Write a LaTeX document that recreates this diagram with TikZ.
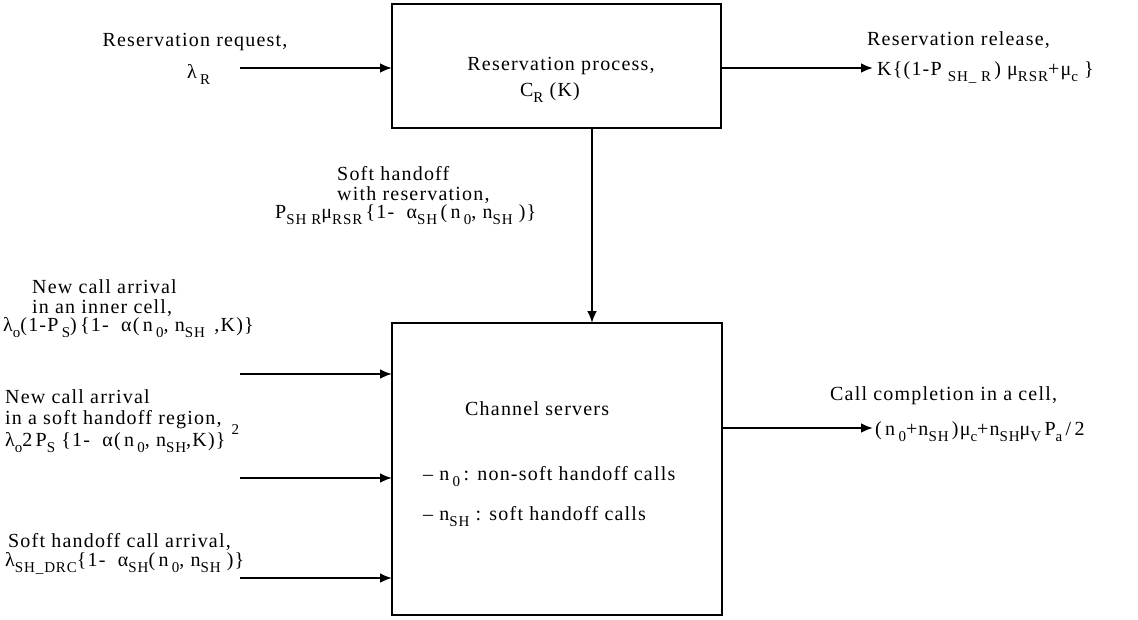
\documentclass[tikz,border=0pt]{standalone}
\usepackage{fontspec}
\setmainfont{Liberation Serif}[LetterSpace=6]
\usetikzlibrary{arrows.meta}
\newcommand{\sbs}[1]{\raisebox{-0.32em}{\fontsize{15}{15}\selectfont #1}}
\newcommand{\sps}[1]{\raisebox{0.6em}{\fontsize{15}{15}\selectfont #1}}
\begin{document}
\begin{tikzpicture}[x=1pt,y=-1pt,
  box/.style={draw, line width=2.8pt, outer sep=0pt, inner sep=0pt},
  arr/.style={line width=2.8pt, -{Latex[length=12pt,width=10pt]}},
  lbl/.style={inner sep=0pt, font=\fontsize{20}{22}\selectfont}]
\useasboundingbox (0,0) rectangle (1138,619);
% boxes
\node[box, minimum width=329pt, minimum height=124pt] (box1) at (556.5,66) {};
\node[box, minimum width=330pt, minimum height=292pt] (box2) at (557,469) {};
% box texts
\node[lbl, anchor=base] (b1t1) at (561,70) {Reservation process,};
\node[lbl, anchor=base] (b1t2) at (550,96) {C\sbs{R} (K)};
\node[lbl, anchor=base west] (b2t1) at (465,415) {Channel servers};
\node[lbl, anchor=base west] (b2t2) at (423,480) {– n\,\sbs{0}\,: non-soft handoff calls};
\node[lbl, anchor=base west] (b2t3) at (423,520) {– n\sbs{SH}\ : soft handoff calls};
% coordinates for free ends
\coordinate (sR) at (240,68);
\coordinate (eR) at (873,68);
\coordinate (vx) at (592,0);
\coordinate (s1) at (240,374);
\coordinate (s2) at (240,478);
\coordinate (s3) at (240,578);
\coordinate (eC) at (873,428);
% connectors
\draw[arr] (sR) -- (sR -| box1.west);
\draw[arr] (eR -| box1.east) -- (eR);
\draw[arr] (box1.south -| vx) -- (box2.north -| vx);
\draw[arr] (s1) -- (s1 -| box2.west);
\draw[arr] (s2) -- (s2 -| box2.west);
\draw[arr] (s3) -- (s3 -| box2.west);
\draw[arr] (eC -| box2.east) -- (eC);
% labels: reservation request
\node[lbl, anchor=base] (rq1) at (195,46) {Reservation request,};
\node[lbl, anchor=base west] (rq2) at (187,78) {λ\,\sbs{R}};
% reservation release
\node[lbl, anchor=base west] (rl1) at (867,45) {Reservation release,};
\node[lbl, anchor=base west] (rl2) at (877,75) {K\{(1-P\ \sbs{SH\_ R}\,)\ μ\sbs{RSR}+μ\sbs{c}\ \}};
% soft handoff with reservation
\node[lbl, anchor=base west] (sh1) at (337,180) {Soft handoff};
\node[lbl, anchor=base west] (sh2) at (337,200) {with reservation,};
\node[lbl, anchor=base west] (sh3) at (275,218) {P\sbs{SH\,\,R}μ\sbs{RSR}\,\{1-\ \ α\sbs{SH}\,(\,n\,\sbs{0}, n\sbs{SH}\ )\}};
% new call inner cell
\node[lbl, anchor=base west] (in1) at (32,293) {New call arrival};
\node[lbl, anchor=base west] (in2) at (32,313) {in an inner cell,};
\node[lbl, anchor=base west] (in3) at (3,331) {λ\sbs{o}(1-P\,\sbs{S})\,\{1-\ \ α(\,n\,\sbs{0}, n\sbs{SH}\ \,,K)\}};
% new call soft handoff region
\node[lbl, anchor=base west] (sr1) at (5,403) {New call arrival};
\node[lbl, anchor=base west] (sr2) at (5,424) {in a soft handoff region,};
\node[lbl, anchor=base west] (sr3) at (5,446) {λ\sbs{o}2\,P\sbs{S}\ \{1-\ \ α(\,n\,\sbs{0}, n\sbs{SH},K)\}\ \sps{2}};
% soft handoff call arrival
\node[lbl, anchor=base west] (sc1) at (8,547) {Soft handoff call arrival,};
\node[lbl, anchor=base west] (sc2) at (5,566) {λ\sbs{SH\_DRC}\{1-\ \ α\sbs{SH}(\,n\,\sbs{0}, n\sbs{SH}\ )\}};
% call completion
\node[lbl, anchor=base west] (cc1) at (830,400) {Call completion in a cell,};
\node[lbl, anchor=base west] (cc2) at (875,435) {(\,n\,\sbs{0}+n\sbs{SH}\,)μ\sbs{c}+n\sbs{SH}μ\sbs{V}\,P\sbs{a}\,/\,2};
\end{tikzpicture}
\end{document}
